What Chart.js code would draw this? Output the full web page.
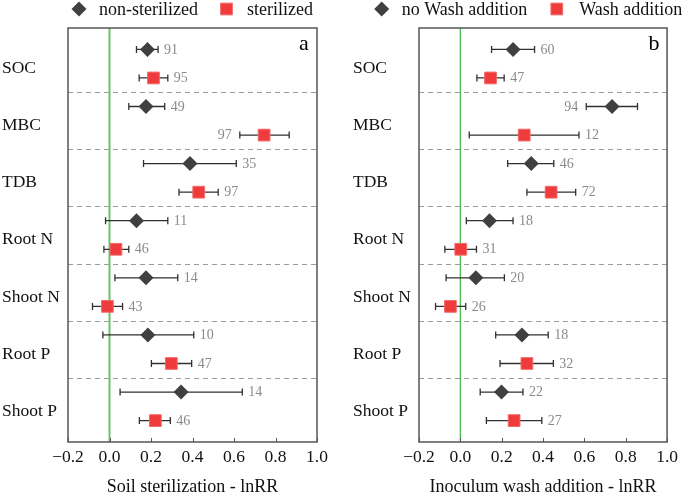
<!DOCTYPE html>
<html>
<head>
<meta charset="utf-8">
<script src="https://cdn.jsdelivr.net/npm/chart.js@4.4.1/dist/chart.umd.min.js"></script>
<style>
  html, body { margin: 0; padding: 0; background: #ffffff; }
  #wrap { position: relative; width: 685px; height: 496px; overflow: hidden; background: #fff; }
  .panel { position: absolute; top: 0; }
</style>
</head>
<body>
<div id="wrap">
  <div class="panel" style="left:0px;width:340px;height:496px;"><canvas id="chartA" width="340" height="496"></canvas></div>
  <div class="panel" style="left:340px;width:345px;height:496px;"><canvas id="chartB" width="345" height="496"></canvas></div>
</div>
<script>
// ---------------- DATA ----------------
const categories = ['SOC', 'MBC', 'TDB', 'Root N', 'Shoot N', 'Root P', 'Shoot P'];
const xTicks = [-0.2, 0.0, 0.2, 0.4, 0.6, 0.8, 1.0];

// Panel a: soil sterilization
const sterNonMean = [0.183, 0.176, 0.388, 0.130, 0.176, 0.185, 0.345];
const sterNonLow  = [0.130, 0.093, 0.164, -0.019, 0.026, -0.032, 0.051];
const sterNonHigh = [0.234, 0.266, 0.611, 0.281, 0.329, 0.406, 0.640];
const sterNonN    = [91, 49, 35, 11, 14, 10, 14];

const sterMean = [0.212, 0.745, 0.430, 0.031, -0.010, 0.298, 0.221];
const sterLow  = [0.143, 0.628, 0.335, -0.027, -0.082, 0.202, 0.144];
const sterHigh = [0.281, 0.866, 0.524, 0.093, 0.063, 0.396, 0.293];
const sterN    = [95, 97, 97, 46, 43, 47, 46];

// Panel b: inoculum wash addition
const washNonMean = [0.255, 0.734, 0.343, 0.141, 0.075, 0.298, 0.199];
const washNonLow  = [0.151, 0.609, 0.229, 0.029, -0.069, 0.171, 0.096];
const washNonHigh = [0.359, 0.857, 0.452, 0.255, 0.213, 0.425, 0.303];
const washNonN    = [60, 94, 46, 18, 20, 18, 22];

const washMean = [0.146, 0.309, 0.439, 0.002, -0.048, 0.322, 0.260];
const washLow  = [0.080, 0.043, 0.322, -0.075, -0.120, 0.192, 0.126];
const washHigh = [0.212, 0.574, 0.558, 0.078, 0.026, 0.450, 0.394];
const washN    = [47, 12, 72, 31, 26, 32, 27];

// ---------------- STYLE ----------------
const SERIF = "'Liberation Serif', 'Times New Roman', Times, serif";
const DIAMOND_COLOR = '#404040';
const RED_COLOR = '#ef3b3b';
const RED_BORDER = '#f36a6a';

function buildPoints(mean, low, high, n, offset) {
  return categories.map((c, i) => ({ x: mean[i], y: 2 * i + offset, lo: low[i], hi: high[i], n: n[i] }));
}

const panelPlugin = {
  id: 'panelDeco',
  beforeDatasetsDraw(chart, args, opts) {
    const { ctx, chartArea: a, scales: { x, y } } = chart;
    ctx.save();
    // dashed separators between categories
    ctx.strokeStyle = '#9c9c9c';
    ctx.lineWidth = 1;
    ctx.setLineDash([5, 4]);
    for (let k = 1; k < categories.length; k++) {
      const py = Math.round(y.getPixelForValue(2 * k + 0.5)) + 0.5;
      ctx.beginPath(); ctx.moveTo(a.left, py); ctx.lineTo(a.right, py); ctx.stroke();
    }
    ctx.setLineDash([]);
    // zero reference line
    const x0 = x.getPixelForValue(0);
    ctx.strokeStyle = opts.zeroColor;
    ctx.lineWidth = opts.zeroWidth;
    ctx.beginPath(); ctx.moveTo(x0, a.top); ctx.lineTo(x0, a.bottom); ctx.stroke();
    // error bars
    ctx.strokeStyle = '#303030';
    ctx.lineWidth = 1.3;
    chart.data.datasets.forEach(ds => {
      ds.data.forEach(d => {
        const py = y.getPixelForValue(d.y);
        const x1 = x.getPixelForValue(d.lo);
        const x2 = x.getPixelForValue(d.hi);
        ctx.beginPath();
        ctx.moveTo(x1, py); ctx.lineTo(x2, py);
        ctx.moveTo(x1, py - 3.5); ctx.lineTo(x1, py + 3.5);
        ctx.moveTo(x2, py - 3.5); ctx.lineTo(x2, py + 3.5);
        ctx.stroke();
      });
    });
    ctx.restore();
  },
  afterDraw(chart, args, opts) {
    const { ctx, chartArea: a, scales: { x, y } } = chart;
    ctx.save();
    // frame
    ctx.strokeStyle = '#555555';
    ctx.lineWidth = 1.5;
    ctx.strokeRect(a.left, a.top, a.right - a.left, a.bottom - a.top);
    // inward tick marks on x axis
    ctx.lineWidth = 1;
    xTicks.forEach(v => {
      const px = Math.round(x.getPixelForValue(v)) + 0.5;
      ctx.beginPath(); ctx.moveTo(px, a.bottom); ctx.lineTo(px, a.bottom - 4); ctx.stroke();
    });
    // sample size labels
    ctx.fillStyle = '#8a8a8a';
    ctx.font = '14px ' + SERIF;
    ctx.textBaseline = 'middle';
    chart.data.datasets.forEach(ds => {
      ds.data.forEach(d => {
        const py = y.getPixelForValue(d.y) + 0.5;
        if (d.hi > 0.75) {
          ctx.textAlign = 'right';
          ctx.fillText(String(d.n), x.getPixelForValue(d.lo) - 8, py);
        } else {
          ctx.textAlign = 'left';
          ctx.fillText(String(d.n), x.getPixelForValue(d.hi) + 6, py);
        }
      });
    });
    // panel letter
    ctx.fillStyle = '#000';
    ctx.font = '22px ' + SERIF;
    ctx.textAlign = 'center';
    ctx.textBaseline = 'middle';
    ctx.fillText(opts.letter, a.right - opts.letterDx, a.top + 16);
    // legend
    ctx.font = '18px ' + SERIF;
    ctx.textAlign = 'left';
    ctx.textBaseline = 'middle';
    chart.data.datasets.forEach((ds, i) => {
      const pos = opts.legendPos[i];
      ctx.fillStyle = ds.backgroundColor;
      ctx.strokeStyle = ds.borderColor;
      Chart.helpers.drawPoint(ctx, { pointStyle: ds.pointStyle, radius: ds.legendRadius, rotation: 0, borderWidth: ds.borderWidth }, pos[0], 9);
      ctx.fillStyle = '#111';
      ctx.fillText(ds.label, pos[1], 10);
    });
    ctx.restore();
  }
};

function makeChart(canvasId, labels, setNon, setTrt, axisTitle, deco) {
  return new Chart(document.getElementById(canvasId), {
    type: 'scatter',
    data: {
      datasets: [
        {
          label: labels[0],
          data: buildPoints(setNon[0], setNon[1], setNon[2], setNon[3], 1),
          pointStyle: 'rectRot',
          pointRadius: 7.5,
          legendRadius: 7.5,
          backgroundColor: DIAMOND_COLOR,
          borderColor: DIAMOND_COLOR,
          borderWidth: 0,
          showLine: false
        },
        {
          label: labels[1],
          data: buildPoints(setTrt[0], setTrt[1], setTrt[2], setTrt[3], 2),
          pointStyle: 'rect',
          pointRadius: 8.3,
          legendRadius: 8.3,
          backgroundColor: RED_COLOR,
          borderColor: RED_BORDER,
          borderWidth: 1,
          showLine: false
        }
      ]
    },
    options: {
      responsive: false,
      devicePixelRatio: 1,
      animation: false,
      events: [],
      layout: { padding: { top: 28, right: deco.padRight, left: deco.padLeft, bottom: 0 } },
      plugins: {
        legend: { display: false },
        tooltip: { enabled: false },
        panelDeco: deco
      },
      scales: {
        x: {
          type: 'linear',
          min: -0.2,
          max: 1.0,
          grid: { display: false, drawTicks: false },
          border: { display: false },
          afterBuildTicks: s => { s.ticks = xTicks.map(v => ({ value: v })); },
          afterFit: s => { s.height = 54; },
          ticks: {
            padding: 7,
            color: '#111',
            font: { family: SERIF, size: 17.5, lineHeight: 1 },
            maxRotation: 0,
            callback: v => (v < 0 ? '\u2212' : '') + Math.abs(v).toFixed(1)
          },
          title: {
            display: true,
            text: axisTitle,
            color: '#111',
            font: { family: SERIF, size: 18, lineHeight: 1 },
            padding: { top: 0, bottom: 0 }
          }
        },
        y: {
          type: 'linear',
          reverse: true,
          min: 0.25,
          max: 14.75,
          grid: { display: false, drawTicks: false },
          border: { display: false },
          afterBuildTicks: s => { s.ticks = categories.map((c, i) => ({ value: 2 * i + 1.67 })); },
          afterFit: s => { s.width = 66; },
          ticks: {
            crossAlign: 'far',
            padding: 0,
            color: '#111',
            font: { family: SERIF, size: 17.5 },
            callback: (v, i) => categories[i]
          }
        }
      }
    },
    plugins: [panelPlugin]
  });
}

makeChart('chartA', ['non-sterilized', 'sterilized'],
  [sterNonMean, sterNonLow, sterNonHigh, sterNonN],
  [sterMean, sterLow, sterHigh, sterN],
  'Soil sterilization - lnRR',
  { padLeft: 2, padRight: 23, letter: 'a', letterDx: 13, zeroColor: '#6cc06c', zeroWidth: 2,
    legendPos: [[79, 99], [226.5, 247]] });

makeChart('chartB', ['no Wash addition', 'Wash addition'],
  [washNonMean, washNonLow, washNonHigh, washNonN],
  [washMean, washLow, washHigh, washN],
  'Inoculum wash addition - lnRR',
  { padLeft: 13, padRight: 17, letter: 'b', letterDx: 13, zeroColor: '#4cbf4c', zeroWidth: 1.3,
    legendPos: [[41.7, 61.7], [216.8, 239.3]] });
</script>
</body>
</html>
